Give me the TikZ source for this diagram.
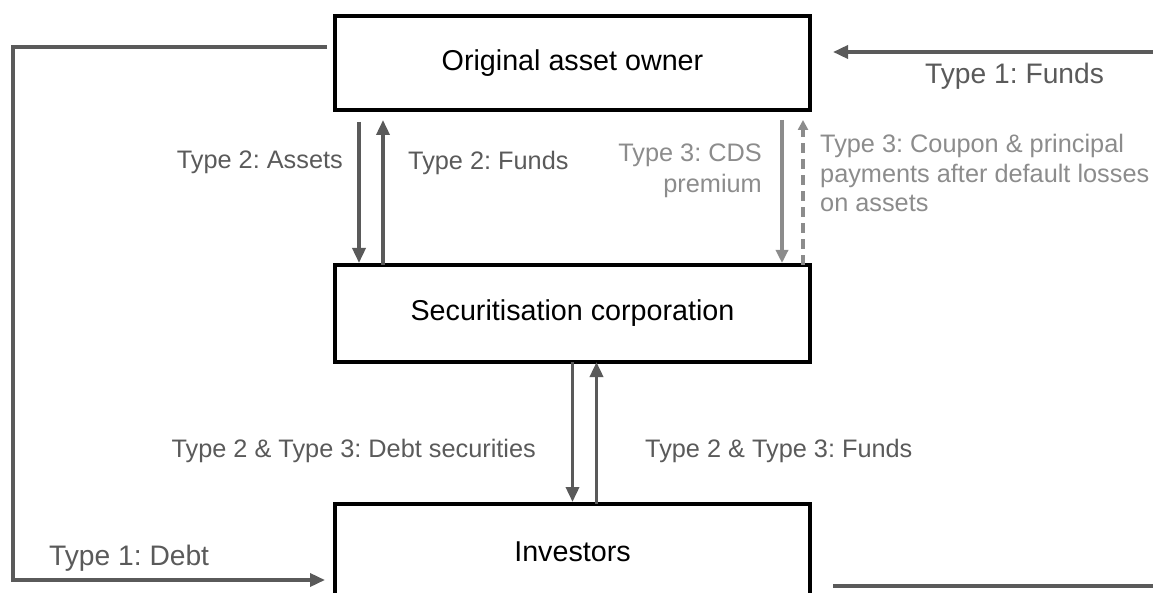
\documentclass[tikz,border=0pt]{standalone}
\usepackage{fontspec}
\setmainfont{Liberation Sans}
\usetikzlibrary{arrows.meta,calc}
\definecolor{dk}{HTML}{5A5A5A}
\definecolor{lt}{HTML}{8C8C8C}
\frenchspacing
\begin{document}
\begin{tikzpicture}[x=1pt,y=-1pt,
  box/.style={draw=black,line width=4.5pt,outer sep=0pt,inner sep=0pt,
    minimum width=475pt,font=\fontsize{28.7}{34}\selectfont},
  arr/.style={draw=dk,line width=3.5pt,-{Triangle[length=15pt,width=13pt]}},
  arrlt/.style={draw=lt,line width=3.2pt,-{Triangle[length=13pt,width=12pt]}},
  arrdash/.style={draw=lt,line width=3.2pt,dash pattern=on 10pt off 6pt,
    -{Triangle[length=10pt,width=10pt]}},
  ln/.style={draw=dk,line width=3.5pt,line join=miter},
  lbl/.style={inner sep=0pt,text=dk,font=\fontsize{25.3}{31}\selectfont},
  lblbig/.style={inner sep=0pt,text=dk,font=\fontsize{28.2}{34}\selectfont},
  lbllt/.style={inner sep=0pt,text=lt,font=\fontsize{25.3}{30}\selectfont}]
\useasboundingbox (0,0) rectangle (1153,593);
\clip (0,0) rectangle (1153,593);

% boxes
\node[box,minimum height=94pt] (top) at (572.5,63) {Original asset owner};
\node[box,minimum height=97pt] (mid) at (572.5,313.5) {Securitisation corporation};
\node[box,minimum height=95.2pt] (inv) at (572.5,551.6) {Investors};

% arrows between top and mid
\draw[arr] ([xshift=-213.5pt,yshift=-12pt]top.south) -- ([xshift=-213.5pt,yshift=2pt]mid.north);
\draw[arr] ([xshift=-189.5pt]mid.north) -- ([xshift=-189.5pt,yshift=-10pt]top.south);
\draw[arrlt] ([xshift=209.5pt,yshift=-10pt]top.south) -- ([xshift=209.5pt,yshift=2pt]mid.north);
\draw[arrdash] ([xshift=230.5pt]mid.north) -- ([xshift=230.5pt,yshift=-10pt]top.south);

% arrows between mid and investors
\draw[arr] (mid.south) -- ([yshift=2pt]inv.north);
\draw[arr] ([xshift=24pt]inv.north) -- ([xshift=24pt]mid.south);

% left loop
\coordinate (lc1) at (13,47);
\coordinate (lc2) at (13,580);
\draw[ln,-{Triangle[length=15pt,width=13pt]}] ($(top.north west)+(-8,31)$) -- (lc1) -- (lc2) -- ($(inv.north west)+(-10,76)$);

% right side
\coordinate (rin) at (1153,52);
\coordinate (rout) at (1153,586);
\draw[arr] (rin) -- ($(top.east)+(23,-11)$);
\draw[ln] ($(inv.north east)+(23,82)$) -- (rout);

% labels
\node[lbl,anchor=base east] (lassets) at (343,169) {Type 2: Assets};
\node[lbl,anchor=base west] (lfunds2) at (408,170) {Type 2: Funds};
\node[lbllt,anchor=base east,align=right,font=\fontsize{25.3}{31}\selectfont] (lcds) at (762,193) {Type 3: CDS\\premium};
\node[lbllt,anchor=base west,align=left,font=\fontsize{25.3}{29.5}\selectfont] (lcoupon) at (820,212) {Type 3: Coupon \& principal\\payments after default losses\\on assets};
\node[lblbig,anchor=base west] (lfunds1) at (925,84) {Type 1: Funds};
\node[lblbig,anchor=base west] (ldebt1) at (49,565) {Type 1: Debt};
\node[lbl,anchor=base east] (ldebtsec) at (536,457) {Type 2 \& Type 3: Debt securities};
\node[lbl,anchor=base west] (lfunds23) at (645,457) {Type 2 \& Type 3: Funds};
\end{tikzpicture}
\end{document}
